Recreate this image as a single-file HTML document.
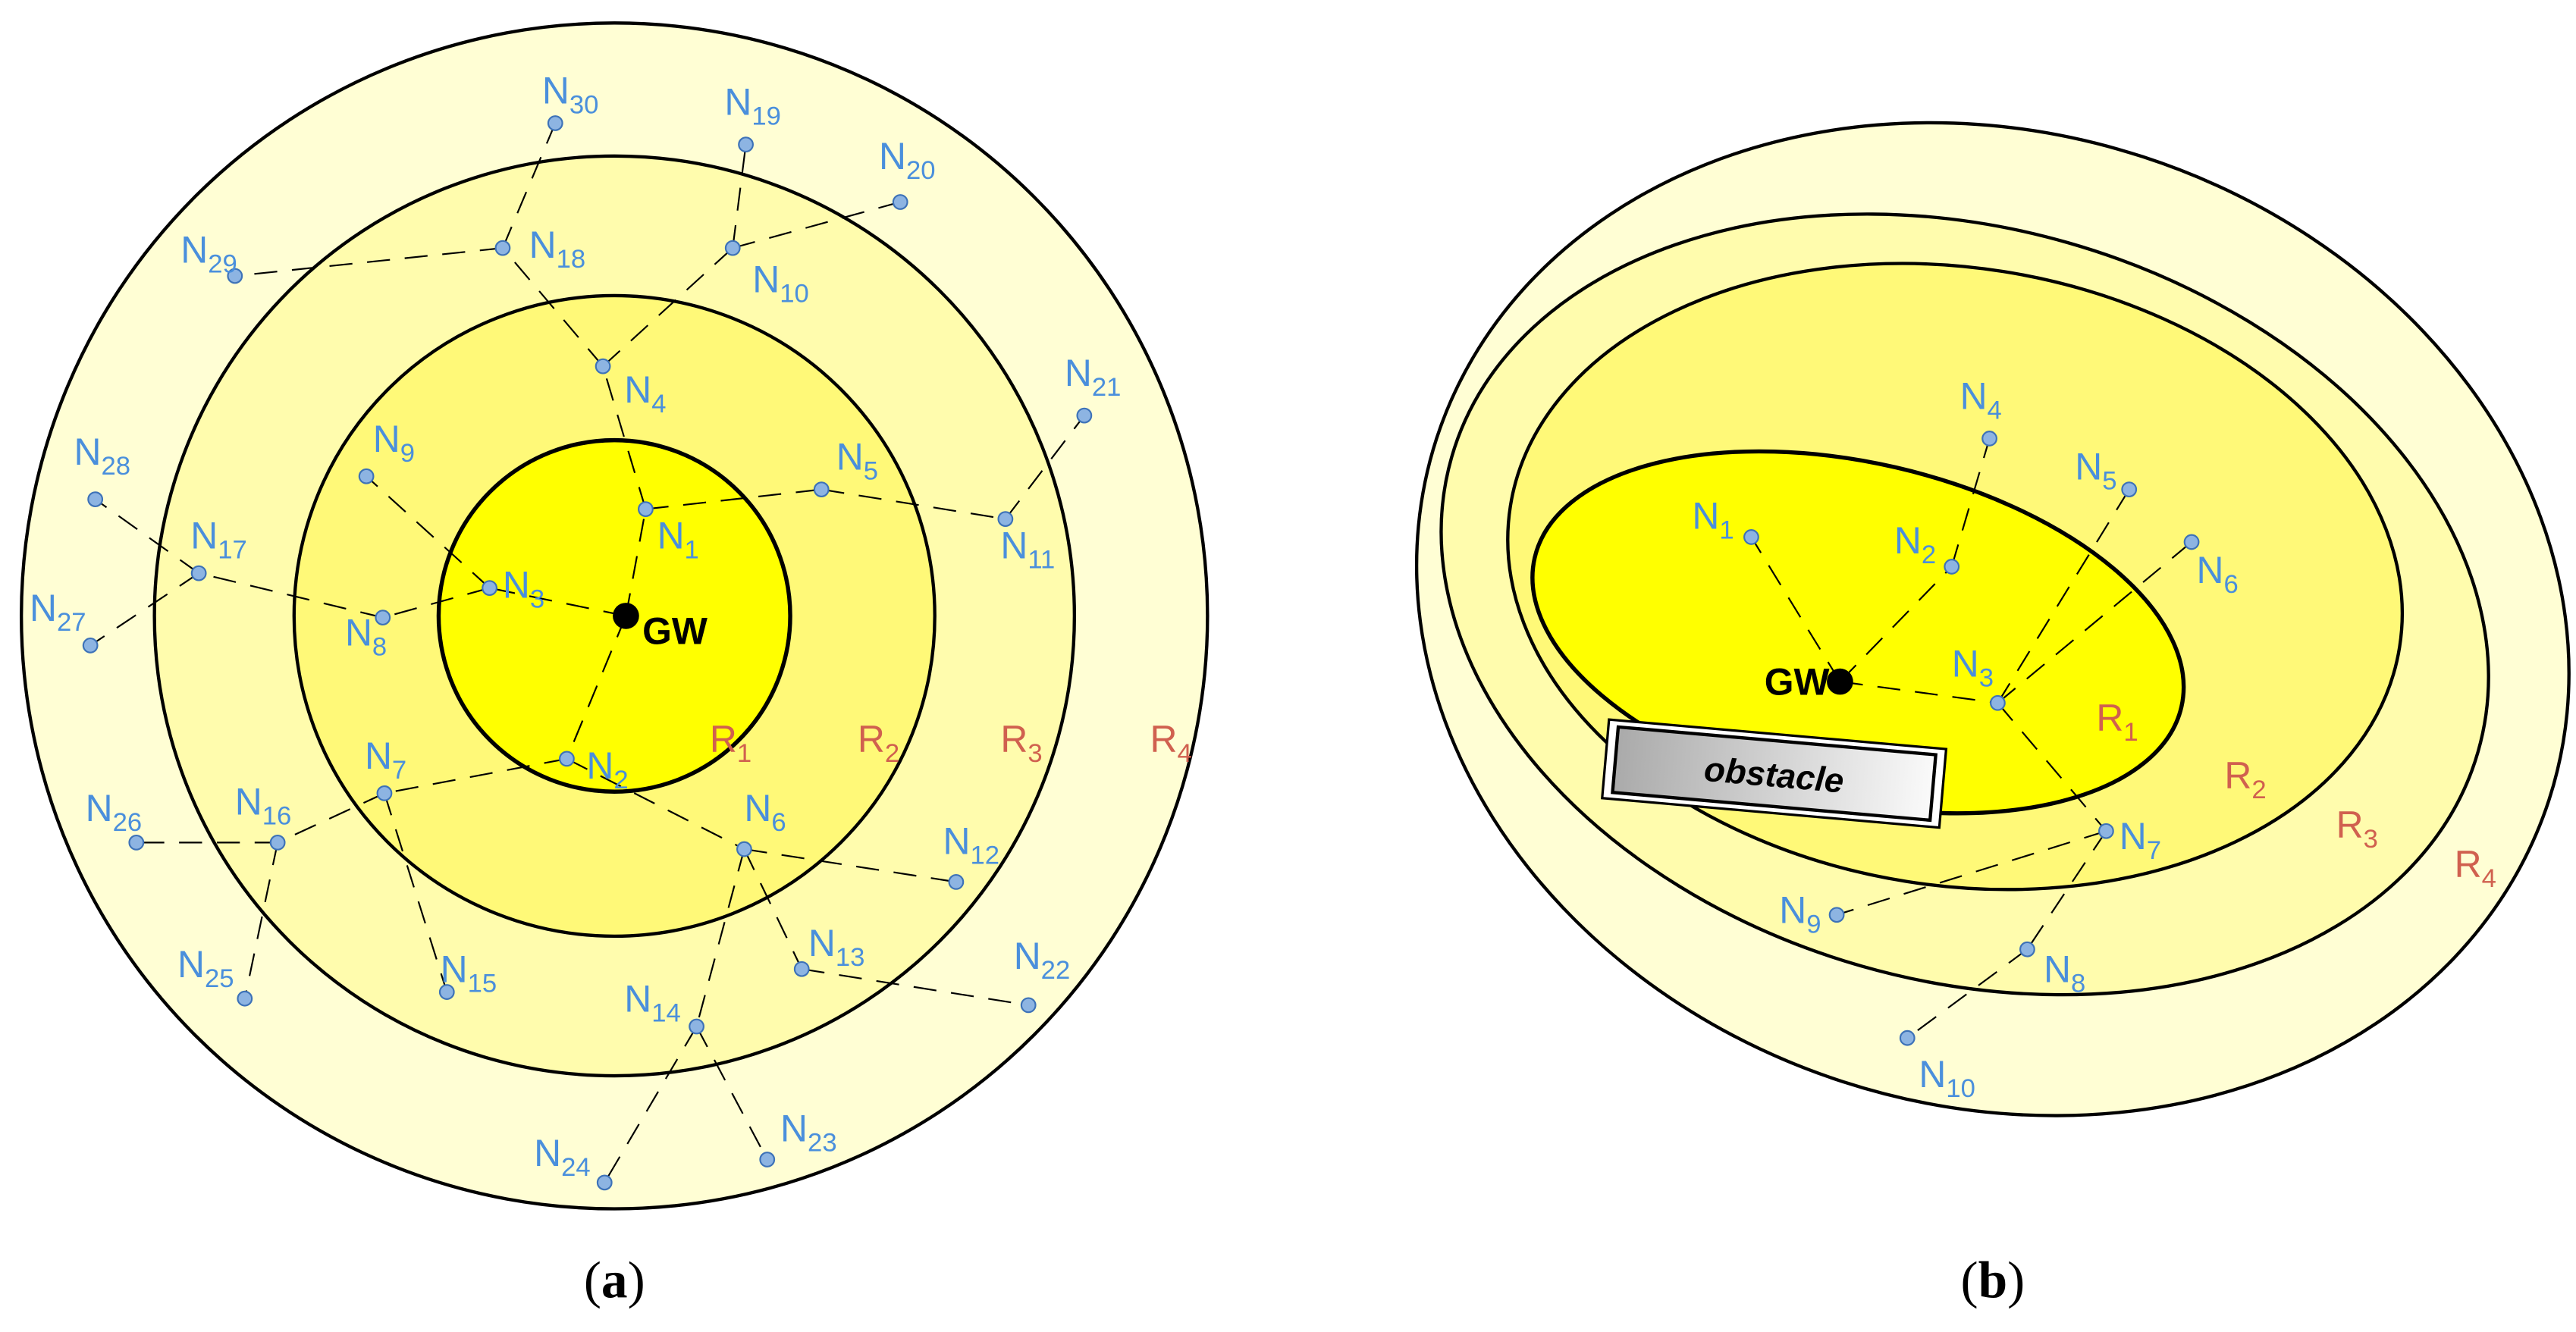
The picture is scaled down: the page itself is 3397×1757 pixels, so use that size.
<!DOCTYPE html>
<html><head><meta charset="utf-8"><style>
html,body{margin:0;padding:0;background:#fff;}
svg{display:block;}
.lb{font-family:"Liberation Sans",sans-serif;font-size:23px;fill:#4a8fdc;}
.rl{font-family:"Liberation Sans",sans-serif;font-size:23px;fill:#d0604f;}
.gw{font-family:"Liberation Sans",sans-serif;font-size:23px;font-weight:bold;fill:#000;}
.cap{font-family:"Liberation Serif",serif;font-size:32px;fill:#000;}
.e{stroke:#000;stroke-width:1;stroke-dasharray:14 9;fill:none;}
.n{fill:#8db4e2;stroke:#3d72b8;stroke-width:1;}
.lb tspan,.rl tspan{font-size:16px;}
</style></head><body>
<svg width="3397" height="1757" viewBox="0 0 1568 811" preserveAspectRatio="none" xmlns="http://www.w3.org/2000/svg">
<defs><linearGradient id="g" x1="0" x2="1"><stop offset="0" stop-color="#aaa"/><stop offset="1" stop-color="#fafafa"/></linearGradient></defs>
<!-- LEFT -->
<circle cx="374" cy="375" r="361" fill="#fffed4" stroke="#000" stroke-width="2"/>
<circle cx="374" cy="375" r="280" fill="#fffcad" stroke="#000" stroke-width="2"/>
<circle cx="374" cy="375" r="195" fill="#fff978" stroke="#000" stroke-width="2"/>
<circle cx="374" cy="375" r="107" fill="#ffff00" stroke="#000" stroke-width="2.5"/>
<g class="e">
<line x1="381" y1="375" x2="393" y2="310"/><line x1="393" y1="310" x2="367" y2="223"/>
<line x1="367" y1="223" x2="446" y2="151"/><line x1="446" y1="151" x2="454" y2="88"/>
<line x1="446" y1="151" x2="548" y2="123"/><line x1="367" y1="223" x2="306" y2="151"/>
<line x1="306" y1="151" x2="338" y2="75"/><line x1="306" y1="151" x2="143" y2="168"/>
<line x1="393" y1="310" x2="500" y2="298"/><line x1="500" y1="298" x2="612" y2="316"/>
<line x1="612" y1="316" x2="660" y2="253"/><line x1="381" y1="375" x2="298" y2="358"/>
<line x1="298" y1="358" x2="223" y2="290"/><line x1="298" y1="358" x2="233" y2="376"/>
<line x1="233" y1="376" x2="121" y2="349"/><line x1="121" y1="349" x2="58" y2="304"/>
<line x1="121" y1="349" x2="55" y2="393"/><line x1="381" y1="375" x2="345" y2="462"/>
<line x1="345" y1="462" x2="234" y2="483"/><line x1="234" y1="483" x2="169" y2="513"/>
<line x1="169" y1="513" x2="83" y2="513"/><line x1="169" y1="513" x2="149" y2="608"/>
<line x1="234" y1="483" x2="272" y2="604"/><line x1="345" y1="462" x2="453" y2="517"/>
<line x1="453" y1="517" x2="582" y2="537"/><line x1="453" y1="517" x2="488" y2="590"/>
<line x1="488" y1="590" x2="626" y2="612"/><line x1="453" y1="517" x2="424" y2="625"/>
<line x1="424" y1="625" x2="368" y2="720"/><line x1="424" y1="625" x2="467" y2="706"/>
</g>
<g class="n">
<circle cx="393" cy="310" r="4.3"/><circle cx="345" cy="462" r="4.3"/><circle cx="298" cy="358" r="4.3"/>
<circle cx="367" cy="223" r="4.3"/><circle cx="500" cy="298" r="4.3"/><circle cx="453" cy="517" r="4.3"/>
<circle cx="234" cy="483" r="4.3"/><circle cx="233" cy="376" r="4.3"/><circle cx="223" cy="290" r="4.3"/>
<circle cx="446" cy="151" r="4.3"/><circle cx="612" cy="316" r="4.3"/><circle cx="582" cy="537" r="4.3"/>
<circle cx="488" cy="590" r="4.3"/><circle cx="424" cy="625" r="4.3"/><circle cx="272" cy="604" r="4.3"/>
<circle cx="169" cy="513" r="4.3"/><circle cx="121" cy="349" r="4.3"/><circle cx="306" cy="151" r="4.3"/>
<circle cx="454" cy="88" r="4.3"/><circle cx="548" cy="123" r="4.3"/><circle cx="660" cy="253" r="4.3"/>
<circle cx="626" cy="612" r="4.3"/><circle cx="467" cy="706" r="4.3"/><circle cx="368" cy="720" r="4.3"/>
<circle cx="149" cy="608" r="4.3"/><circle cx="83" cy="513" r="4.3"/><circle cx="55" cy="393" r="4.3"/>
<circle cx="58" cy="304" r="4.3"/><circle cx="143" cy="168" r="4.3"/><circle cx="338" cy="75" r="4.3"/>
</g>
<circle cx="381" cy="375" r="8" fill="#000"/>
<text class="gw" x="391" y="392">GW</text>
<g class="lb">
<text x="400" y="334">N<tspan dy="6">1</tspan></text>
<text x="357" y="474">N<tspan dy="6">2</tspan></text>
<text x="306" y="364">N<tspan dy="6">3</tspan></text>
<text x="380" y="245">N<tspan dy="6">4</tspan></text>
<text x="509" y="286">N<tspan dy="6">5</tspan></text>
<text x="453" y="500">N<tspan dy="6">6</tspan></text>
<text x="222" y="468">N<tspan dy="6">7</tspan></text>
<text x="210" y="393">N<tspan dy="6">8</tspan></text>
<text x="227" y="275">N<tspan dy="6">9</tspan></text>
<text x="458" y="178">N<tspan dy="6">10</tspan></text>
<text x="609" y="340">N<tspan dy="6">11</tspan></text>
<text x="574" y="520">N<tspan dy="6">12</tspan></text>
<text x="492" y="582">N<tspan dy="6">13</tspan></text>
<text x="380" y="616">N<tspan dy="6">14</tspan></text>
<text x="268" y="598">N<tspan dy="6">15</tspan></text>
<text x="143" y="496">N<tspan dy="6">16</tspan></text>
<text x="116" y="334">N<tspan dy="6">17</tspan></text>
<text x="322" y="157">N<tspan dy="6">18</tspan></text>
<text x="441" y="70">N<tspan dy="6">19</tspan></text>
<text x="535" y="103">N<tspan dy="6">20</tspan></text>
<text x="648" y="235">N<tspan dy="6">21</tspan></text>
<text x="617" y="590">N<tspan dy="6">22</tspan></text>
<text x="475" y="695">N<tspan dy="6">23</tspan></text>
<text x="325" y="710">N<tspan dy="6">24</tspan></text>
<text x="108" y="595">N<tspan dy="6">25</tspan></text>
<text x="52" y="500">N<tspan dy="6">26</tspan></text>
<text x="18" y="378">N<tspan dy="6">27</tspan></text>
<text x="45" y="283">N<tspan dy="6">28</tspan></text>
<text x="110" y="160">N<tspan dy="6">29</tspan></text>
<text x="330" y="63">N<tspan dy="6">30</tspan></text>
</g>
<g class="rl">
<text x="432" y="458">R<tspan dy="6">1</tspan></text>
<text x="522" y="458">R<tspan dy="6">2</tspan></text>
<text x="609" y="458">R<tspan dy="6">3</tspan></text>
<text x="700" y="458">R<tspan dy="6">4</tspan></text>
</g>
<text class="cap" x="374" y="790" text-anchor="middle">(<tspan font-weight="bold">a</tspan>)</text>
<!-- RIGHT -->
<ellipse cx="1213" cy="377" rx="356" ry="296" transform="rotate(18 1213 377)" fill="#fffed4" stroke="#000" stroke-width="2"/>
<ellipse cx="1196" cy="368" rx="325" ry="229" transform="rotate(16 1196 368)" fill="#fffcad" stroke="#000" stroke-width="2"/>
<ellipse cx="1190" cy="351" rx="274" ry="188" transform="rotate(9 1190 351)" fill="#fff978" stroke="#000" stroke-width="2"/>
<ellipse cx="1131" cy="385" rx="202" ry="103" transform="rotate(13 1131 385)" fill="#ffff00" stroke="#000" stroke-width="2.5"/>
<g class="e">
<line x1="1120" y1="415" x2="1066" y2="327"/><line x1="1120" y1="415" x2="1188" y2="345"/>
<line x1="1188" y1="345" x2="1211" y2="267"/><line x1="1120" y1="415" x2="1216" y2="428"/>
<line x1="1216" y1="428" x2="1296" y2="298"/><line x1="1216" y1="428" x2="1334" y2="330"/>
<line x1="1216" y1="428" x2="1282" y2="506"/><line x1="1282" y1="506" x2="1118" y2="557"/>
<line x1="1282" y1="506" x2="1234" y2="578"/><line x1="1234" y1="578" x2="1161" y2="632"/>
</g>
<g transform="rotate(5 1080 470)">
<rect x="977" y="447" width="206" height="48" fill="#fff" stroke="#000" stroke-width="1.5"/>
<rect x="983" y="451" width="194" height="40" fill="url(#g)" stroke="#000" stroke-width="2"/>
<text x="1080" y="479" text-anchor="middle" font-family="Liberation Sans, sans-serif" font-size="21" font-weight="bold" font-style="italic">obstacle</text>
</g>
<g class="n">
<circle cx="1066" cy="327" r="4.3"/><circle cx="1188" cy="345" r="4.3"/><circle cx="1216" cy="428" r="4.3"/>
<circle cx="1211" cy="267" r="4.3"/><circle cx="1296" cy="298" r="4.3"/><circle cx="1334" cy="330" r="4.3"/>
<circle cx="1282" cy="506" r="4.3"/><circle cx="1234" cy="578" r="4.3"/><circle cx="1118" cy="557" r="4.3"/>
<circle cx="1161" cy="632" r="4.3"/>
</g>
<circle cx="1120" cy="415" r="8" fill="#000"/>
<text class="gw" x="1074" y="423">GW</text>
<g class="lb">
<text x="1030" y="322">N<tspan dy="6">1</tspan></text>
<text x="1153" y="337">N<tspan dy="6">2</tspan></text>
<text x="1188" y="412">N<tspan dy="6">3</tspan></text>
<text x="1193" y="249">N<tspan dy="6">4</tspan></text>
<text x="1263" y="292">N<tspan dy="6">5</tspan></text>
<text x="1337" y="355">N<tspan dy="6">6</tspan></text>
<text x="1290" y="517">N<tspan dy="6">7</tspan></text>
<text x="1244" y="598">N<tspan dy="6">8</tspan></text>
<text x="1083" y="562">N<tspan dy="6">9</tspan></text>
<text x="1168" y="662">N<tspan dy="6">10</tspan></text>
</g>
<g class="rl">
<text x="1276" y="445">R<tspan dy="6">1</tspan></text>
<text x="1354" y="480">R<tspan dy="6">2</tspan></text>
<text x="1422" y="510">R<tspan dy="6">3</tspan></text>
<text x="1494" y="534">R<tspan dy="6">4</tspan></text>
</g>
<text class="cap" x="1213" y="790" text-anchor="middle">(<tspan font-weight="bold">b</tspan>)</text>
</svg>
</body></html>
